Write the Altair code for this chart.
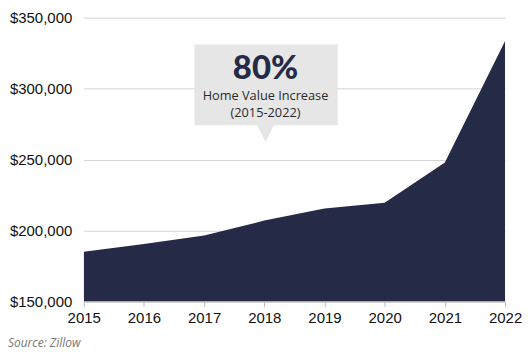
import altair as alt
import pandas as pd

years = [2015, 2016, 2017, 2018, 2019, 2020, 2021, 2022]
values = [185000, 190500, 196500, 207000, 215500, 219500, 248000, 333500]

y_ticks = [150000, 200000, 250000, 300000, 350000]

# annotation (data coordinates)
box = pd.DataFrame({"x": [2016.84], "x2": [2019.22], "y": [331000], "y2": [274200]})
pointer = pd.DataFrame({"x": [2018.02], "y": [268400]})
notes = pd.DataFrame({
    "x": [2018.02, 2018.02, 2018.02],
    "y": [313500, 294600, 282600],
    "t": ["80%", "Home Value Increase", "(2015-2022)"],
})

df = pd.DataFrame({"year": years, "value": values})

NAVY = "#252a47"

xs = alt.Scale(domain=[2015, 2022], nice=False)
ys = alt.Scale(domain=[150000, 350000], nice=False, zero=False)

xaxis = alt.Axis(values=years, format="d", title=None, grid=False,
                 labelFontSize=15, labelColor="#111111", labelFont="Liberation Sans",
                 labelPadding=4, tickSize=5, tickColor="#bbbbbb", domainColor="#bbbbbb",
                 labelFlush=False)
yaxis = alt.Axis(values=y_ticks, format="$,.0f", title=None, grid=True,
                 gridColor="#d4d4d4", ticks=False, domain=False,
                 labelFontSize=15, labelColor="#111111", labelFont="Liberation Sans",
                 labelPadding=12)

area = alt.Chart(df).mark_area(color=NAVY, interpolate="linear", clip=True).encode(
    x=alt.X("year:Q", scale=xs, axis=xaxis),
    y=alt.Y("value:Q", scale=ys, axis=yaxis),
    y2=alt.datum(150000),
)

rect = alt.Chart(box).mark_rect(color="#e6e6e6").encode(
    x=alt.X("x:Q", scale=xs, axis=xaxis), x2="x2:Q",
    y=alt.Y("y:Q", scale=ys, axis=yaxis), y2="y2:Q",
)

tri = alt.Chart(pointer).mark_point(
    shape="M-1,-1L1,-1L0,1Z", filled=True, color="#e6e6e6", size=289, opacity=1
).encode(x=alt.X("x:Q", scale=xs, axis=xaxis), y=alt.Y("y:Q", scale=ys, axis=yaxis))

big = alt.Chart(notes.iloc[[0]]).mark_text(
    font="Lato", fontWeight=900, fontSize=33, color=NAVY, baseline="middle"
).encode(x=alt.X("x:Q", scale=xs, axis=xaxis), y=alt.Y("y:Q", scale=ys, axis=yaxis), text="t:N")

small = alt.Chart(notes.iloc[1:]).mark_text(
    font="Open Sans", fontSize=12.8, color="#2a2a2a", baseline="middle"
).encode(x=alt.X("x:Q", scale=xs, axis=xaxis), y=alt.Y("y:Q", scale=ys, axis=yaxis), text="t:N")

source = alt.Chart(pd.DataFrame({"t": ["Source: Zillow"]})).mark_text(
    font="Open Sans", fontStyle="italic", fontSize=12, color="#777777",
    align="left", baseline="middle"
).encode(x=alt.value(-76), y=alt.value(327), text="t:N")

chart = alt.layer(area, rect, tri, big, small, source).properties(
    width=423, height=285,
    padding={"left": 0, "top": 2, "right": 0, "bottom": 0},
    background="white",
).configure_view(stroke=None, strokeWidth=0).configure_axisY(domain=False)

chart.save("out.html", embed_options={"renderer": "svg", "actions": False})
